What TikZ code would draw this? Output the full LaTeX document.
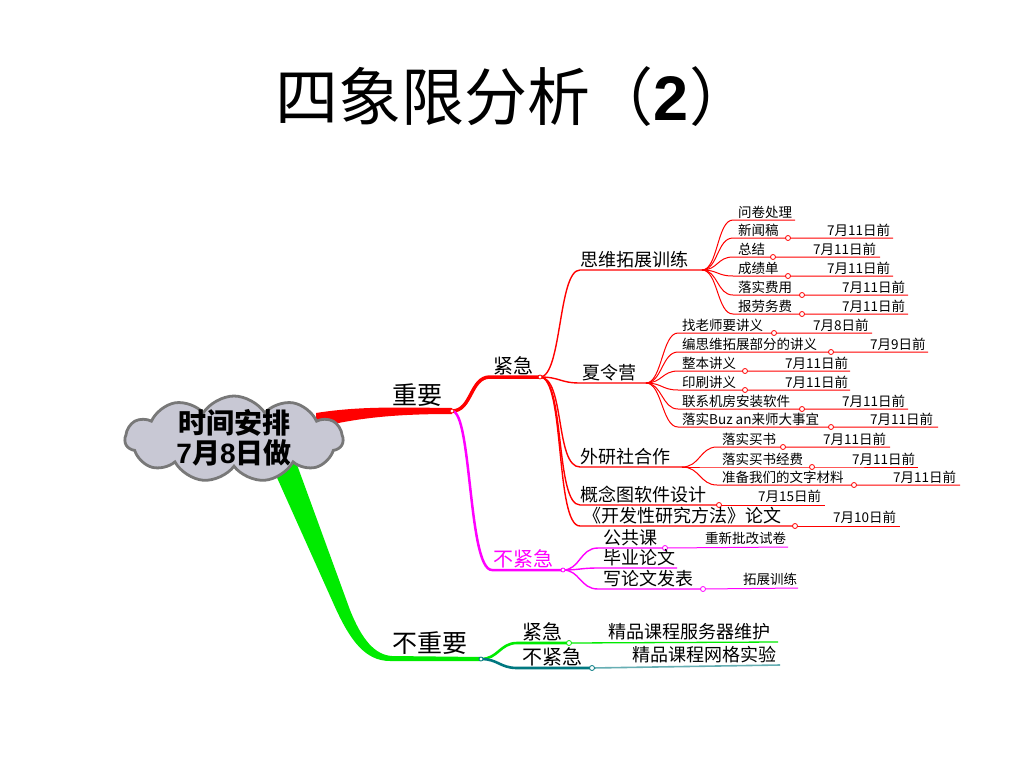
\documentclass[tikz,border=0pt]{standalone}
\usepackage{fontspec}
\setmainfont{Noto Sans CJK SC}
\newfontfamily\arialf{Liberation Sans}
\usetikzlibrary{shapes.symbols}
\definecolor{cloudfill}{RGB}{200,200,212}
\definecolor{cloudline}{RGB}{120,120,120}
\definecolor{gbr}{RGB}{0,235,0}
\definecolor{tealb}{RGB}{0,120,128}
\definecolor{mag}{RGB}{255,0,255}
\definecolor{rd}{RGB}{255,0,0}
\begin{document}
\begin{tikzpicture}[x=1pt,y=-1pt,
  lbl/.style={anchor=south west, inner sep=0pt, font=\fontsize{18}{20}\selectfont},
  leaf/.style={anchor=south west, inner sep=0pt, font=\fontsize{13.5}{15}\selectfont},
  big/.style={anchor=south west, inner sep=0pt, font=\fontsize{20}{22}\selectfont},
  huge/.style={anchor=south west, inner sep=0pt, font=\fontsize{25}{28}\selectfont},
  dot/.style={circle, draw=#1, fill=white, line width=0.8pt, minimum size=5pt, inner sep=0pt},
  midl/.style={draw=rd, line width=1.4pt},
  leafl/.style={draw=rd, line width=1pt},
  magl/.style={draw=mag, line width=1.4pt},
  magleaf/.style={draw=mag, line width=1pt}]
\useasboundingbox (0,0) rectangle (1024,768);

% title
\node[font=\fontsize{63}{72}\selectfont, inner sep=0pt] (title) at (514,97) {四象限分析（{\arialf\bfseries 2}）};

% hubs
\coordinate (h1) at (452,411);
\coordinate (h2) at (540,377);
\coordinate (h3) at (702,270);
\coordinate (h4) at (646,383);
\coordinate (h5) at (682,467);
\coordinate (h6) at (563,570);
\coordinate (h7) at (481,659);

% green thick branch
\fill[gbr] (270,462) -- (335,607) .. controls (350,640) and (365,661) .. (390,661)
  -- (481,661) -- (481,657) -- (392,656) .. controls (375,655) and (362,640) .. (350,610) -- (296,462) -- cycle;
% red thick branch
\fill[rd] (316,413) .. controls (360,406) and (400,407.5) .. (452,408) -- (452,414) .. controls (400,414) and (360,417) .. (316,428) -- cycle;

% cloud
\node[cloud, cloud puffs=11, cloud puff arc=115, aspect=2.5, draw=cloudline, fill=cloudfill,
      line width=2.8pt, minimum width=218pt, minimum height=86pt, inner sep=0pt] (cloud) at (234,439) {};
\node[font=\fontsize{28}{32}\selectfont\bfseries, inner sep=0pt] (ct1) at (234,423) {时间安排};
\node[font=\fontsize{28}{32}\selectfont\bfseries, inner sep=0pt] (ct2) at (234,453) {{\arialf 7}月{\arialf 8}日做};

% 重要
\node[huge] (zy) at (392,407) {重要};
% 紧急 (red)
\draw[rd, line width=3.5pt] (h1) .. controls (472,411) and (470,377) .. (490,377) -- (h2);
\node[big] (jj) at (493,375) {紧急};
% 不紧急 (magenta)
\draw[mag, line width=2.5pt] (h1) .. controls (472,411) and (468,570) .. (492,570) -- (h6);
\node[big, text=mag] (bjj) at (493,568) {不紧急};

% children of 紧急
\coordinate (s1) at (580,270);
\draw[midl] (h2) .. controls (562,377) and (558,270) .. (s1) -- (h3);
\node[lbl] (swtz) at (580,268) {思维拓展训练};
\coordinate (s2) at (580,383);
\draw[midl] (h2) .. controls (560,377) and (560,383) .. (s2) -- (h4);
\node[lbl] (xly) at (582,381) {夏令营};
\coordinate (s3) at (580,467);
\draw[midl] (h2) .. controls (565,377) and (555,467) .. (s3) -- (h5);
\node[lbl] (wys) at (580,465) {外研社合作};
\coordinate (s4) at (580,505);
\coordinate (c4) at (719,505);
\coordinate (e4) at (825,505);
\draw[midl] (h2) .. controls (565,377) and (555,505) .. (s4) -- (c4);
\draw[leafl] (c4) -- (e4);
\node[dot=rd] (o4) at (c4) {};
\node[lbl] (gnt) at (580,503) {概念图软件设计};
\node[leaf] (gntd) at (758,503) {7月15日前};
\coordinate (s5) at (580,526);
\coordinate (c5) at (795,526);
\coordinate (e5) at (900,526);
\draw[midl] (h2) .. controls (565,377) and (555,526) .. (s5) -- (c5);
\draw[leafl] (c5) -- (e5);
\node[dot=rd] (o5) at (c5) {};
\node[lbl] (lw) at (583,524) {《开发性研究方法》论文};
\node[leaf] (lwd) at (833,524) {7月10日前};

% leaves of 思维拓展训练
\coordinate (a0) at (733,220);
\coordinate (a0e) at (795,220);
\draw[leafl] (h3) .. controls (718,270) and (717,220) .. (a0) -- (a0e);
\node[leaf] (a0t) at (738,219) {问卷处理};
\foreach \i/\y/\t/\cx/\d/\dx/\ex in {1/238/新闻稿/788/7月11日前/827/893,
  2/257/总结/773/7月11日前/813/880,
  3/276/成绩单/788/7月11日前/827/893,
  4/295/落实费用/802/7月11日前/842/908,
  5/314/报劳务费/802/7月11日前/842/908}{
  \coordinate (as\i) at (733,\y);
  \coordinate (ac\i) at (\cx,\y);
  \coordinate (ae\i) at (\ex,\y);
  \draw[leafl] (h3) .. controls (718,270) and (717,\y) .. (as\i) -- (ac\i) -- (ae\i);
  \node[dot=rd] (ao\i) at (ac\i) {};
  \node[leaf] (at\i) at (738,\y-1) {\t};
  \node[leaf] (ad\i) at (\dx,\y-1) {\d};
}

% leaves of 夏令营
\foreach \i/\y/\t/\cx/\d/\dx/\ex in {1/333/找老师要讲义/774/7月8日前/813/872,
  2/352/编思维拓展部分的讲义/831/7月9日前/870/928,
  3/371/整本讲义/745/7月11日前/785/850,
  4/390/印刷讲义/745/7月11日前/785/850,
  5/409/联系机房安装软件/802/7月11日前/842/908,
  6/427/落实Buz an来师大事宜/831/7月11日前/870/938}{
  \coordinate (bs\i) at (678,\y);
  \coordinate (bc\i) at (\cx,\y);
  \coordinate (be\i) at (\ex,\y);
  \draw[leafl] (h4) .. controls (662,383) and (662,\y) .. (bs\i) -- (bc\i) -- (be\i);
  \node[dot=rd] (bo\i) at (bc\i) {};
  \node[leaf] (bt\i) at (682,\y-1) {\t};
  \node[leaf] (bd\i) at (\dx,\y-1) {\d};
}

% leaves of 外研社合作
\foreach \i/\y/\t/\cx/\d/\dx/\ex in {1/447/落实买书/783/7月11日前/823/890,
  2/467/落实买书经费/812/7月11日前/852/918,
  3/485/准备我们的文字材料/854/7月11日前/893/960}{
  \coordinate (cs\i) at (717,\y);
  \coordinate (cc\i) at (\cx,\y);
  \coordinate (ce\i) at (\ex,\y);
  \draw[leafl] (h5) .. controls (700,467) and (700,\y) .. (cs\i) -- (cc\i) -- (ce\i);
  \node[dot=rd] (co\i) at (cc\i) {};
  \node[leaf] (ct\i) at (722,\y-1) {\t};
  \node[leaf] (cd\i) at (\dx,\y-1) {\d};
}

% leaves of 不紧急 (magenta)
\coordinate (ms1) at (598,548);
\coordinate (mc1) at (665,548);
\coordinate (me1) at (788,547);
\draw[magl] (h6) .. controls (580,570) and (580,548) .. (ms1) -- (mc1);
\draw[magleaf] (mc1) -- (me1);
\node[dot=mag] (mo1) at (mc1) {};
\node[lbl] (mt1) at (603,546) {公共课};
\node[leaf] (md1) at (705,545) {重新批改试卷};
\coordinate (ms2) at (598,568);
\coordinate (me2) at (677,568);
\draw[magl] (h6) .. controls (580,570) and (580,568) .. (ms2) -- (me2);
\node[lbl] (mt2) at (603,566) {毕业论文};
\coordinate (ms3) at (598,589);
\coordinate (mc3) at (703,589);
\coordinate (me3) at (798,588);
\draw[magl] (h6) .. controls (580,570) and (580,589) .. (ms3) -- (mc3);
\draw[magleaf] (mc3) -- (me3);
\node[dot=mag] (mo3) at (mc3) {};
\node[lbl] (mt3) at (603,587) {写论文发表};
\node[leaf] (md3) at (743,586) {拓展训练};

% 不重要
\node[huge] (bzy) at (392,655) {不重要};
\coordinate (gs1) at (517,643);
\coordinate (gc1) at (569,643);
\coordinate (ge1) at (778,642);
\draw[gbr, line width=2.6pt] (h7) .. controls (498,659) and (500,643) .. (gs1) -- (gc1);
\draw[gbr, line width=1.3pt] (gc1) -- (ge1);
\node[dot=gbr] (go1) at (gc1) {};
\node[big] (gj) at (522,641) {紧急};
\node[lbl] (gjt) at (608,640) {精品课程服务器维护};
\coordinate (gs2) at (517,668);
\coordinate (gc2) at (592,668);
\coordinate (ge2) at (780,665);
\draw[tealb, line width=2.6pt] (h7) .. controls (498,659) and (500,668) .. (gs2) -- (gc2);
\draw[tealb!60, line width=1.6pt] (gc2) -- (ge2);
\node[dot=tealb] (go2) at (gc2) {};
\node[big] (gbj) at (522,666) {不紧急};
\node[lbl] (gbjt) at (632,663) {精品课程网格实验};

% hub dots
\node[dot=rd, minimum size=4pt] (d1) at (h1) {};
\node[dot=rd, minimum size=4pt] (d2) at (h2) {};
\node[dot=mag, minimum size=4pt] (d6) at (h6) {};
\node[dot=tealb, minimum size=4pt] (d7) at (h7) {};
\end{tikzpicture}
\end{document}
